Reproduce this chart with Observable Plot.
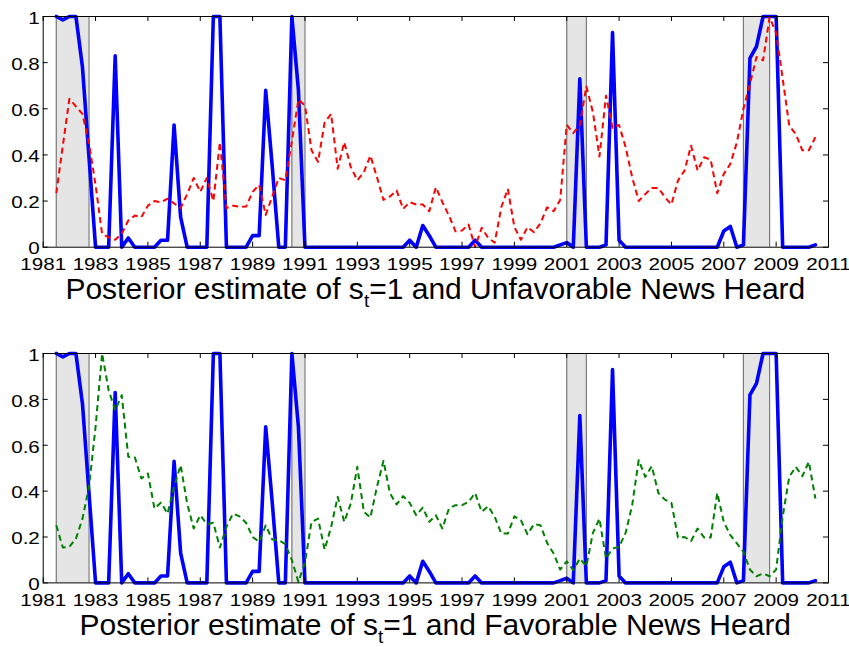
<!DOCTYPE html>
<html><head><meta charset="utf-8">
<script src="https://cdn.jsdelivr.net/npm/d3@7"></script>
<script src="https://cdn.jsdelivr.net/npm/@observablehq/plot@0.6"></script>
<style>
body{margin:0;background:#fff;overflow:hidden;}
#wrap{position:relative;width:849px;height:647px;}
.panel{position:absolute;left:0;}
.cap{position:absolute;left:42.7px;width:785.3px;text-align:center;font-family:"Liberation Sans",Arial,Helvetica,sans-serif;font-size:30px;line-height:30px;color:#000;white-space:nowrap;}
.cap .sub{position:relative;top:8px;font-size:19px;}
.wx{transform-box:fill-box;transform-origin:center;transform:scaleX(1.25);}
.wy{transform-box:fill-box;transform-origin:right center;transform:scaleX(1.25);}
</style></head><body>
<div id="wrap">
  <div id="p1" class="panel" style="top:0px"></div>
  <div class="cap" style="top:274px">Posterior estimate of s<span class="sub">t</span>=1 and Unfavorable News Heard</div>
  <div id="p2" class="panel" style="top:337.3px"></div>
  <div class="cap" style="top:610px">Posterior estimate of s<span class="sub">t</span>=1 and Favorable News Heard</div>
</div>
<script>
// Quarterly observations, first quarter 1981.5, step of one quarter
const startYear = 1981.5;
const quarterStep = 0.25;

// Posterior estimate of s_t = 1 (blue, same in both panels)
const posterior = [
  1.0, 0.985, 1.0, 1.0, 0.78, 0.39, 0, 0, 0, 0.83,
  0, 0.04, 0, 0, 0, 0, 0.03, 0.03, 0.53, 0.13,
  0, 0, 0, 0, 1.0, 1.0, 0, 0, 0, 0,
  0.05, 0.05, 0.68, 0.35, 0, 0, 1.0, 0.68, 0, 0,
  0, 0, 0, 0, 0, 0, 0, 0, 0, 0,
  0, 0, 0, 0, 0.03, 0, 0.094, 0.05, 0, 0,
  0, 0, 0, 0, 0.03, 0, 0, 0, 0, 0,
  0, 0, 0, 0, 0, 0, 0, 0.01, 0.02, 0,
  0.73, 0, 0, 0, 0.01, 0.93, 0.03, 0, 0, 0,
  0, 0, 0, 0, 0, 0, 0, 0, 0, 0,
  0, 0, 0.07, 0.09, 0, 0.01, 0.82, 0.87, 1.0, 1.0,
  1.0, 0, 0, 0, 0, 0, 0.01
];

// Unfavorable news heard (red dashed)
const unfavorable = [
  0.234, 0.44, 0.643, 0.61, 0.578, 0.45, 0.27, 0.058, 0.043, 0.032,
  0.058, 0.116, 0.137, 0.13, 0.18, 0.2, 0.195, 0.21, 0.19, 0.17,
  0.23, 0.3, 0.24, 0.3, 0.2, 0.455, 0.17, 0.18, 0.175, 0.176,
  0.24, 0.27, 0.14, 0.22, 0.3, 0.29, 0.46, 0.64, 0.614, 0.42,
  0.37, 0.54, 0.578, 0.34, 0.455, 0.347, 0.29, 0.325, 0.397, 0.303,
  0.205, 0.22, 0.246, 0.166, 0.195, 0.185, 0.185, 0.156, 0.26, 0.195,
  0.137, 0.069, 0.072, 0.098, 0.0, 0.084, 0.04, 0.02, 0.173, 0.253,
  0.087, 0.032, 0.087, 0.065, 0.104, 0.173, 0.156, 0.205, 0.53, 0.494,
  0.53, 0.697, 0.585, 0.393, 0.657, 0.517, 0.53, 0.434, 0.303, 0.2,
  0.23, 0.257, 0.257, 0.217, 0.185, 0.289, 0.332, 0.44, 0.332, 0.39,
  0.379, 0.234, 0.318, 0.361, 0.455, 0.6, 0.708, 0.824, 0.81, 0.997,
  0.93, 0.73, 0.527, 0.49, 0.42, 0.42, 0.477
];

// Favorable news heard (green dashed)
const favorable = [
  0.251, 0.154, 0.157, 0.193, 0.28, 0.419, 0.68, 1.0, 0.84, 0.753,
  0.818, 0.55, 0.547, 0.455, 0.477, 0.324, 0.35, 0.302, 0.419, 0.513,
  0.346, 0.237, 0.295, 0.256, 0.262, 0.154, 0.244, 0.302, 0.29, 0.262,
  0.2, 0.179, 0.251, 0.189, 0.186, 0.169, 0.099, 0.004, 0.09, 0.266,
  0.28, 0.145, 0.244, 0.375, 0.266, 0.346, 0.506, 0.31, 0.285, 0.419,
  0.532, 0.39, 0.342, 0.378, 0.349, 0.295, 0.328, 0.266, 0.295, 0.237,
  0.324, 0.339, 0.339, 0.353, 0.392, 0.31, 0.334, 0.288, 0.215, 0.215,
  0.29, 0.273, 0.212, 0.256, 0.251, 0.174, 0.128, 0.058, 0.094, 0.056,
  0.106, 0.073, 0.218, 0.28, 0.106, 0.15, 0.157, 0.218, 0.339, 0.535,
  0.462, 0.509, 0.392, 0.363, 0.349, 0.198, 0.2, 0.183, 0.237, 0.198,
  0.198, 0.392, 0.266, 0.208, 0.172, 0.135, 0.058, 0.029, 0.041, 0.029,
  0.058, 0.288, 0.462, 0.506, 0.465, 0.528, 0.368
];

// Recession shading
const recessionStart = [1981.5, 1990.5, 2001.0, 2007.75];
const recessionEnd   = [1982.75, 1991.0, 2001.75, 2008.75];

// Ticks
const xTicks = [1981, 1983, 1985, 1987, 1989, 1991, 1993, 1995, 1997, 1999, 2001, 2003, 2005, 2007, 2009, 2011];
const yTicks = [0, 0.2, 0.4, 0.6, 0.8, 1];
const yTickLabels = ["0", "0.2", "0.4", "0.6", "0.8", "1"];

function toRows(values) {
  return values.map((v, i) => ({t: startYear + i * quarterStep, v}));
}

function panel(newsValues, newsColor, innerH) {
  const W = 849, ml = 42.7, mr = 21, mt = 16, mb = 29.3;
  const plotW = W - ml - mr;
  const bands = recessionStart.map((s, i) => ({x1: s, x2: recessionEnd[i]}));
  const edges = recessionStart.concat(recessionEnd);
  return Plot.plot({
    width: W, height: mt + innerH + mb,
    marginLeft: ml, marginRight: mr, marginTop: mt, marginBottom: mb,
    x: {domain: [1981, 2011]},
    y: {domain: [0, 1]},
    style: {fontFamily: "'Liberation Sans', Arial, Helvetica, sans-serif", fontSize: "16.5px", color: "#000", background: "#fff", overflow: "visible"},
    marks: [
      Plot.rect(bands, {x1: "x1", x2: "x2", y1: 0, y2: 1, fill: "#e5e5e5"}),
      Plot.ruleX(edges, {x: d => d, stroke: "#7a7a7a", strokeWidth: 1.2}),
      Plot.line(toRows(posterior), {x: "t", y: "v", stroke: "#0000ff", strokeWidth: 3.6}),
      Plot.line(toRows(newsValues), {x: "t", y: "v", stroke: newsColor, strokeWidth: 2, strokeDasharray: "6,4", strokeLinecap: "butt"}),
      Plot.frame({stroke: "#000", strokeWidth: 1}),
      Plot.tickX(xTicks, {x: d => d, insetTop: innerH - 5, stroke: "#000"}),
      Plot.tickX(xTicks, {x: d => d, insetBottom: innerH - 5, stroke: "#000"}),
      Plot.tickY(yTicks, {y: d => d, insetRight: plotW - 5, stroke: "#000"}),
      Plot.tickY(yTicks, {y: d => d, insetLeft: plotW - 5, stroke: "#000"}),
      Plot.axisX({ticks: xTicks, tickSize: 0, tickPadding: 11, tickFormat: d => String(d), label: null, fontSize: 16.5}),
      Plot.axisY({ticks: yTicks, tickSize: 0, tickPadding: 3.4, tickFormat: d => yTickLabels[yTicks.indexOf(d)], label: null, fontSize: 16.5, dy: 2})
    ]
  });
}

function widen(chart) {
  const ns = "http://www.w3.org/2000/svg";
  [["x", "wx"], ["y", "wy"]].forEach(([k, cls]) => {
    chart.querySelectorAll(`g[aria-label="${k}-axis tick label"] text`).forEach(t => {
      const g = document.createElementNS(ns, "g");
      g.setAttribute("class", cls);
      t.parentNode.insertBefore(g, t);
      g.appendChild(t);
    });
  });
}

const c1 = panel(unfavorable, "#ff0000", 230.7);
const c2 = panel(favorable, "#008000", 229.4);
document.getElementById("p1").appendChild(c1);
document.getElementById("p2").appendChild(c2);
widen(c1); widen(c2);
</script>
</body></html>
